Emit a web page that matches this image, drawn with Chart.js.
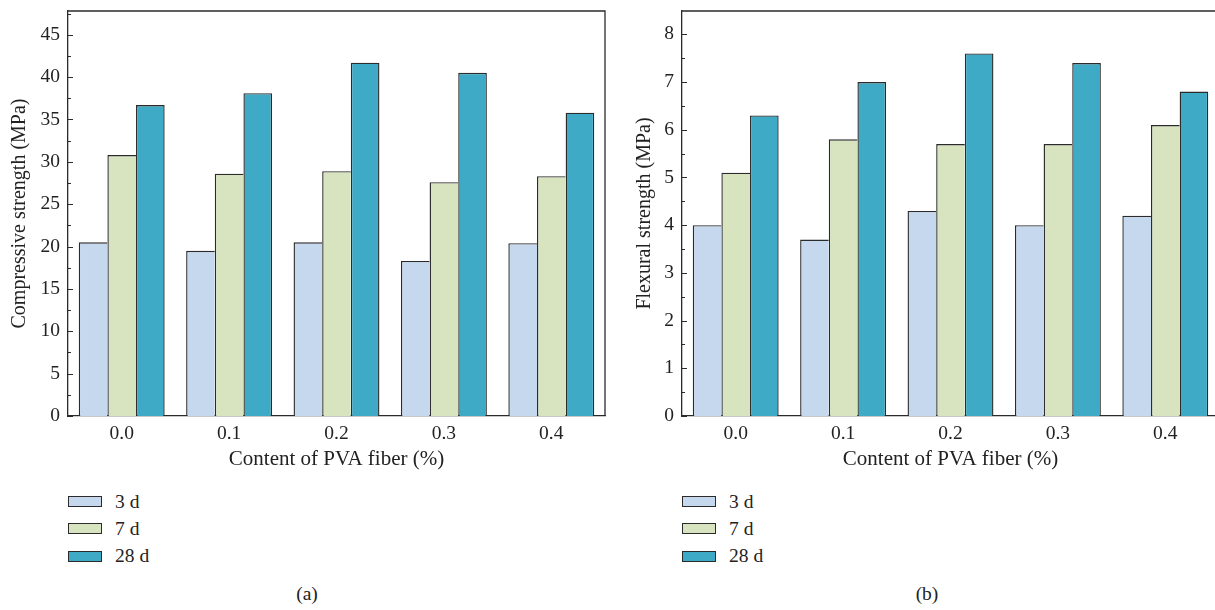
<!DOCTYPE html>
<html>
<head>
<meta charset="utf-8">
<script src="https://cdn.jsdelivr.net/npm/chart.js@4.4.1/dist/chart.umd.min.js"></script>
<style>
  html, body { margin: 0; padding: 0; background: #fff; }
  body { width: 1215px; height: 610px; overflow: hidden; position: relative; font-family: 'Liberation Serif', serif; color: #222; }
  .panel { position: absolute; top: 0; height: 476px; }
  #panelA { left: 0; width: 615px; }
  #panelB { left: 620px; width: 609px; }
  .legend { position: absolute; top: 488px; font-size: 19.5px; }
  .legend-row { display: flex; align-items: center; height: 27.3px; }
  .swatch { width: 32px; height: 9px; border: 1.4px solid #2b2b2b; margin-right: 13px; }
  .caption { position: absolute; top: 583px; font-size: 19.5px; transform: translateX(-50%); }
</style>
</head>
<body>
<div class="panel" id="panelA"><canvas id="chartA"></canvas></div>
<div class="panel" id="panelB"><canvas id="chartB"></canvas></div>
<div class="legend" id="legendA" style="left:68px"></div>
<div class="legend" id="legendB" style="left:682px"></div>
<div class="caption" style="left:307px">(a)</div>
<div class="caption" style="left:927px">(b)</div>

<script>
// Data
const categories = ['0.0', '0.1', '0.2', '0.3', '0.4'];
const seriesLabels = ['3 d', '7 d', '28 d'];
const seriesColors = ['#c5d8ee', '#d8e4c0', '#3eaac6'];

const compressive3d = [20.5, 19.5, 20.5, 18.3, 20.4];
const compressive7d = [30.8, 28.6, 28.9, 27.6, 28.3];
const compressive28d = [36.7, 38.1, 41.7, 40.5, 35.8];

const flexural3d = [4.0, 3.7, 4.3, 4.0, 4.2];
const flexural7d = [5.1, 5.8, 5.7, 5.7, 6.1];
const flexural28d = [6.3, 7.0, 7.6, 7.4, 6.8];

const compressiveTicks = [0, 5, 10, 15, 20, 25, 30, 35, 40, 45];
const flexuralTicks = [0, 1, 2, 3, 4, 5, 6, 7, 8];

const TEXT = '#222';
const LINE = '#2b2b2b';

// Top/right frame edges and inward major/minor ticks on the value axis
const frameAndTicks = {
  id: 'frameAndTicks',
  afterDatasetsDraw(chart, args, opts) {
    const { ctx, chartArea: a } = chart;
    const y = chart.scales.y;
    ctx.save();
    ctx.strokeStyle = LINE;
    ctx.lineWidth = 1.3;
    ctx.beginPath();
    ctx.moveTo(a.left, a.top);
    ctx.lineTo(a.right, a.top);
    ctx.lineTo(a.right, a.bottom);
    ctx.stroke();
    ctx.lineWidth = 1;
    for (let i = 0; i * opts.minorStep <= y.max; i++) {
      const py = Math.round(y.getPixelForValue(i * opts.minorStep)) + 0.5;
      const len = i % 2 === 0 ? 5 : 3;
      ctx.beginPath();
      ctx.moveTo(a.left, py);
      ctx.lineTo(a.left + len, py);
      ctx.stroke();
    }
    ctx.restore();
  }
};

function makeChart(id, values, tickValues, yMax, minorStep, yTitle, axisWidth, titlePad) {
  // shared edges between neighbouring bars get a single line
  const borders = [
    { top: 1.4, left: 1.4, right: 0 },
    { top: 1.4, left: 1.4, right: 0 },
    { top: 1.4, left: 1.4, right: 1.4 }
  ];
  return new Chart(document.getElementById(id), {
    type: 'bar',
    data: {
      labels: categories,
      datasets: values.map((d, i) => ({
        label: seriesLabels[i],
        data: d,
        backgroundColor: seriesColors[i],
        borderColor: LINE,
        borderWidth: borders[i],
        borderSkipped: 'start',
        categoryPercentage: 0.8,
        barPercentage: 1.0
      }))
    },
    options: {
      responsive: true,
      maintainAspectRatio: false,
      animation: false,
      layout: { padding: { top: 11, right: 10, bottom: 0, left: 0 } },
      plugins: {
        legend: { display: false },
        tooltip: { enabled: false },
        frameAndTicks: { minorStep: minorStep }
      },
      scales: {
        x: {
          grid: { display: false, drawTicks: false },
          border: { display: true, color: LINE, width: 1.3 },
          ticks: { color: TEXT, padding: 6, font: { family: 'Liberation Serif', size: 19.5 } },
          title: {
            display: true,
            text: 'Content of PVA fiber (%)',
            color: TEXT,
            font: { family: 'Liberation Serif', size: 21 },
            padding: { top: 0, bottom: 4 }
          },
          afterFit(s) { s.height = 60; s.paddingLeft = 0; s.paddingRight = 0; }
        },
        y: {
          min: 0,
          max: yMax,
          grid: { display: false, drawTicks: false },
          border: { display: true, color: LINE, width: 1.3 },
          afterBuildTicks(s) { s.ticks = tickValues.map(v => ({ value: v })); },
          ticks: { color: TEXT, padding: 8, font: { family: 'Liberation Serif', size: 19.5 } },
          title: {
            display: true,
            text: yTitle,
            color: TEXT,
            font: { family: 'Liberation Serif', size: 20 },
            padding: { top: titlePad, bottom: 0 }
          },
          afterFit(s) { s.width = axisWidth; s.paddingTop = 0; s.paddingBottom = 0; }
        }
      }
    },
    plugins: [frameAndTicks]
  });
}

function buildLegend(id) {
  const box = document.getElementById(id);
  seriesLabels.forEach((label, i) => {
    const row = document.createElement('div');
    row.className = 'legend-row';
    const sw = document.createElement('div');
    sw.className = 'swatch';
    sw.style.background = seriesColors[i];
    const txt = document.createElement('span');
    txt.textContent = label;
    row.appendChild(sw);
    row.appendChild(txt);
    box.appendChild(row);
  });
}

makeChart('chartA', [compressive3d, compressive7d, compressive28d], compressiveTicks, 47.8, 2.5,
  'Compressive strength (MPa)', 68, 8);
makeChart('chartB', [flexural3d, flexural7d, flexural28d], flexuralTicks, 8.49, 0.5,
  'Flexural strength (MPa)', 62, 13);
buildLegend('legendA');
buildLegend('legendB');
</script>
</body>
</html>
